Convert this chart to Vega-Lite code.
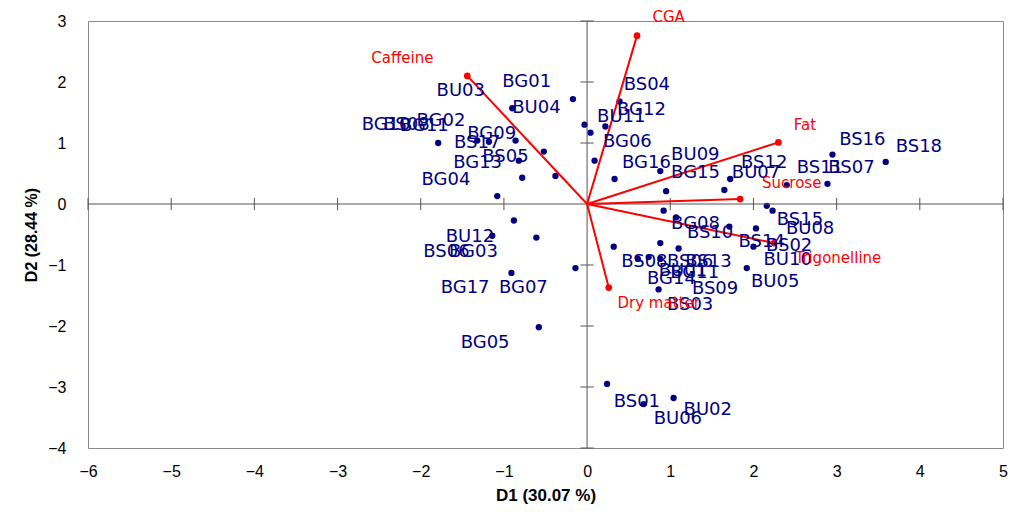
{
  "$schema": "https://vega.github.io/schema/vega-lite/v6.json",
  "width": 915,
  "height": 427,
  "autosize": {"type": "none"},
  "padding": {"left": 88, "top": 21, "right": 7, "bottom": 68},
  "background": "white",
  "config": {
    "view": {"stroke": "#8a8a8a", "strokeWidth": 1},
    "font": "Liberation Sans"
  },
  "datasets": {
    "origin": [{"x": 0, "y": 0}],
    "xticks": [{"x": -6}, {"x": -5}, {"x": -4}, {"x": -3}, {"x": -2}, {"x": -1}, {"x": 1}, {"x": 2}, {"x": 3}, {"x": 4}, {"x": 5}],
    "yticks": [{"y": -4}, {"y": -3}, {"y": -2}, {"y": -1}, {"y": 1}, {"y": 2}, {"y": 3}],
    "vectors": [
      {"variable": "CGA", "x": 0.60, "y": 2.76, "lx": 0.98, "ly": 3.07},
      {"variable": "Caffeine", "x": -1.44, "y": 2.10, "lx": -2.22, "ly": 2.39},
      {"variable": "Fat", "x": 2.30, "y": 1.01, "lx": 2.62, "ly": 1.30},
      {"variable": "Sucrose", "x": 1.84, "y": 0.08, "lx": 2.46, "ly": 0.34},
      {"variable": "Trigonelline", "x": 2.25, "y": -0.64, "lx": 3.02, "ly": -0.89},
      {"variable": "Dry matter", "x": 0.26, "y": -1.37, "lx": 0.86, "ly": -1.62}
    ],
    "points": [
      {"x": -0.17, "y": 1.72}, {"x": -0.90, "y": 1.57}, {"x": 0.39, "y": 1.68}, {"x": -0.03, "y": 1.30},
      {"x": 0.22, "y": 1.27}, {"x": 0.04, "y": 1.17}, {"x": -1.79, "y": 1.00}, {"x": -1.32, "y": 1.04},
      {"x": -1.18, "y": 1.02}, {"x": -0.86, "y": 1.04}, {"x": -0.52, "y": 0.86}, {"x": -0.82, "y": 0.71},
      {"x": 0.09, "y": 0.71}, {"x": -0.78, "y": 0.43}, {"x": -0.38, "y": 0.46}, {"x": 0.33, "y": 0.41},
      {"x": -1.08, "y": 0.13}, {"x": 0.88, "y": 0.54}, {"x": 0.95, "y": 0.21}, {"x": 1.72, "y": 0.41},
      {"x": 1.65, "y": 0.23}, {"x": 2.40, "y": 0.31}, {"x": 2.95, "y": 0.81}, {"x": 2.89, "y": 0.33},
      {"x": 3.59, "y": 0.69}, {"x": 2.16, "y": -0.03}, {"x": 2.23, "y": -0.11}, {"x": 0.92, "y": -0.11},
      {"x": 1.07, "y": -0.22}, {"x": 1.71, "y": -0.37}, {"x": 2.03, "y": -0.40}, {"x": 0.88, "y": -0.64},
      {"x": 1.10, "y": -0.73}, {"x": 0.32, "y": -0.70}, {"x": 2.00, "y": -0.70}, {"x": 0.74, "y": -0.87},
      {"x": 0.88, "y": -0.90}, {"x": 0.61, "y": -0.90}, {"x": 1.92, "y": -1.05}, {"x": 0.86, "y": -1.40},
      {"x": -0.88, "y": -0.27}, {"x": -1.14, "y": -0.52}, {"x": -0.61, "y": -0.55}, {"x": -0.14, "y": -1.05},
      {"x": -0.91, "y": -1.13}, {"x": -0.58, "y": -2.02}, {"x": 0.24, "y": -2.95}, {"x": 0.68, "y": -3.28},
      {"x": 1.04, "y": -3.18}
    ],
    "labels": [
      {"name": "BG01", "x": -1.02, "y": 2.00}, {"name": "BU03", "x": -1.81, "y": 1.85},
      {"name": "BS04", "x": 0.44, "y": 1.95}, {"name": "BU04", "x": -0.90, "y": 1.57},
      {"name": "BG12", "x": 0.36, "y": 1.54}, {"name": "BU11", "x": 0.12, "y": 1.43},
      {"name": "BG10", "x": -2.71, "y": 1.30}, {"name": "BS08", "x": -2.45, "y": 1.30},
      {"name": "BG11", "x": -2.25, "y": 1.28}, {"name": "BG02", "x": -2.05, "y": 1.36},
      {"name": "BG09", "x": -1.44, "y": 1.15}, {"name": "BS17", "x": -1.60, "y": 1.00},
      {"name": "BS05", "x": -1.26, "y": 0.77}, {"name": "BG13", "x": -1.61, "y": 0.67},
      {"name": "BG04", "x": -1.99, "y": 0.39}, {"name": "BG06", "x": 0.19, "y": 1.02},
      {"name": "BG16", "x": 0.42, "y": 0.67}, {"name": "BU09", "x": 1.01, "y": 0.80},
      {"name": "BG15", "x": 1.01, "y": 0.51}, {"name": "BS12", "x": 1.85, "y": 0.67},
      {"name": "BU07", "x": 1.74, "y": 0.51}, {"name": "BS11", "x": 2.52, "y": 0.59},
      {"name": "BS07", "x": 2.90, "y": 0.59}, {"name": "BS16", "x": 3.03, "y": 1.05},
      {"name": "BS18", "x": 3.71, "y": 0.93}, {"name": "BG08", "x": 1.01, "y": -0.33},
      {"name": "BS10", "x": 1.20, "y": -0.48}, {"name": "BS15", "x": 2.28, "y": -0.26},
      {"name": "BU08", "x": 2.39, "y": -0.41}, {"name": "BS14", "x": 1.82, "y": -0.62},
      {"name": "BS02", "x": 2.15, "y": -0.69}, {"name": "BU10", "x": 2.12, "y": -0.92},
      {"name": "BU05", "x": 1.97, "y": -1.28}, {"name": "BS09", "x": 1.26, "y": -1.39},
      {"name": "BS03", "x": 0.96, "y": -1.66}, {"name": "BS08", "x": 0.41, "y": -0.95},
      {"name": "BS06", "x": 0.96, "y": -0.95}, {"name": "BS13", "x": 1.18, "y": -0.95},
      {"name": "BU01", "x": 0.86, "y": -1.10}, {"name": "BG11", "x": 1.00, "y": -1.13},
      {"name": "BG14", "x": 0.72, "y": -1.23}, {"name": "BU12", "x": -1.70, "y": -0.54},
      {"name": "BS06", "x": -1.97, "y": -0.79}, {"name": "BG03", "x": -1.66, "y": -0.79},
      {"name": "BG17", "x": -1.76, "y": -1.38}, {"name": "BG07", "x": -1.06, "y": -1.38},
      {"name": "BG05", "x": -1.52, "y": -2.28}, {"name": "BS01", "x": 0.32, "y": -3.25},
      {"name": "BU02", "x": 1.16, "y": -3.38}, {"name": "BU06", "x": 0.80, "y": -3.52}
    ]
  },
  "layer": [
    {
      "data": {"name": "points"},
      "mark": {"type": "circle", "color": "#000080", "size": 40, "opacity": 1},
      "encoding": {
        "x": {
          "field": "x", "type": "quantitative",
          "scale": {"domain": [-6, 5], "nice": false, "zero": false},
          "axis": {
            "title": "D1 (30.07 %)", "values": [-6, -5, -4, -3, -2, -1, 0, 1, 2, 3, 4, 5], "format": "d",
            "domain": false, "ticks": false, "grid": false, "labelFlush": false,
            "labelFontSize": 16, "labelColor": "black", "labelPadding": 15,
            "titleFontSize": 17, "titleFontWeight": "bold", "titleColor": "black", "titlePadding": 8
          }
        },
        "y": {
          "field": "y", "type": "quantitative",
          "scale": {"domain": [-4, 3], "nice": false, "zero": false},
          "axis": {
            "title": "D2 (28.44 %)", "values": [-4, -3, -2, -1, 0, 1, 2, 3], "format": "d",
            "domain": false, "ticks": false, "grid": false, "labelFlush": false,
            "labelFontSize": 16, "labelColor": "black", "labelPadding": 22,
            "titleFontSize": 16, "titleFontWeight": "bold", "titleColor": "black", "titlePadding": 8
          }
        }
      }
    },
    {
      "data": {"name": "origin"},
      "mark": {"type": "rule", "color": "#555555", "strokeWidth": 1},
      "encoding": {"y": {"field": "y", "type": "quantitative"}}
    },
    {
      "data": {"name": "origin"},
      "mark": {"type": "rule", "color": "#555555", "strokeWidth": 1},
      "encoding": {"x": {"field": "x", "type": "quantitative"}}
    },
    {
      "data": {"name": "xticks"},
      "mark": {"type": "rule", "color": "#555555", "strokeWidth": 1},
      "encoding": {
        "x": {"field": "x", "type": "quantitative"},
        "y": {"datum": -0.1, "type": "quantitative"},
        "y2": {"datum": 0.1}
      }
    },
    {
      "data": {"name": "yticks"},
      "mark": {"type": "rule", "color": "#555555", "strokeWidth": 1},
      "encoding": {
        "y": {"field": "y", "type": "quantitative"},
        "x": {"datum": -0.08, "type": "quantitative"},
        "x2": {"datum": 0.08}
      }
    },
    {
      "data": {"name": "vectors"},
      "mark": {"type": "rule", "color": "#ff0000", "strokeWidth": 2},
      "encoding": {
        "x": {"field": "x", "type": "quantitative"},
        "y": {"field": "y", "type": "quantitative"},
        "x2": {"datum": 0},
        "y2": {"datum": 0}
      }
    },
    {
      "data": {"name": "vectors"},
      "mark": {"type": "circle", "color": "#ff0000", "size": 45, "opacity": 1},
      "encoding": {
        "x": {"field": "x", "type": "quantitative"},
        "y": {"field": "y", "type": "quantitative"}
      }
    },
    {
      "data": {"name": "labels"},
      "mark": {"type": "text", "align": "left", "baseline": "middle", "font": "DejaVu Sans", "fontSize": 18, "color": "#000080", "clip": false},
      "encoding": {
        "x": {"field": "x", "type": "quantitative"},
        "y": {"field": "y", "type": "quantitative"},
        "text": {"field": "name"}
      }
    },
    {
      "data": {"name": "vectors"},
      "mark": {"type": "text", "align": "center", "baseline": "middle", "font": "DejaVu Sans", "fontSize": 15, "color": "#ff0000", "clip": false},
      "encoding": {
        "x": {"field": "lx", "type": "quantitative"},
        "y": {"field": "ly", "type": "quantitative"},
        "text": {"field": "variable"}
      }
    }
  ]
}
